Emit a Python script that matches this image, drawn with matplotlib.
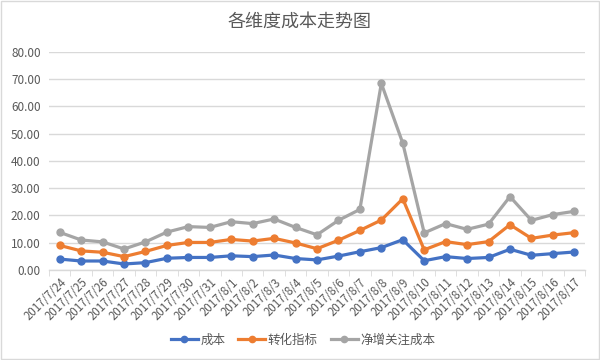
import matplotlib
matplotlib.use("Agg")
import matplotlib.pyplot as plt
from matplotlib.patches import Rectangle
import numpy as np

plt.rcParams['font.family'] = ['Noto Sans CJK SC', 'DejaVu Sans']

dates = ["2017/7/24", "2017/7/25", "2017/7/26", "2017/7/27", "2017/7/28", "2017/7/29",
         "2017/7/30", "2017/7/31", "2017/8/1", "2017/8/2", "2017/8/3", "2017/8/4",
         "2017/8/5", "2017/8/6", "2017/8/7", "2017/8/8", "2017/8/9", "2017/8/10",
         "2017/8/11", "2017/8/12", "2017/8/13", "2017/8/14", "2017/8/15", "2017/8/16",
         "2017/8/17"]
cost = [4.0, 3.3, 3.3, 2.2, 2.7, 4.3, 4.6, 4.6, 5.2, 4.9, 5.5, 4.2,
        3.7, 5.1, 6.7, 8.2, 11.1, 3.4, 4.9, 4.2, 4.6, 7.6, 5.4, 6.0, 6.6]
conversion = [9.0, 7.0, 6.5, 4.9, 6.8, 9.0, 10.1, 10.1, 11.2, 10.6, 11.6, 9.9,
              7.8, 10.9, 14.5, 18.3, 26.1, 7.4, 10.4, 9.3, 10.4, 16.6, 11.6, 12.8, 13.7]
net_follow = [13.8, 11.0, 10.3, 7.7, 10.3, 13.9, 15.9, 15.6, 17.7, 17.0, 18.7, 15.6,
              12.9, 18.2, 22.2, 68.4, 46.5, 13.6, 17.0, 14.9, 16.8, 26.9, 18.2, 20.3, 21.5]
series_names = ["成本", "转化指标", "净增关注成本"]
colors = ["#4472C4", "#ED7D31", "#A5A5A5"]

fig = plt.figure(figsize=(6, 3.6), dpi=100)
ax = fig.add_axes([49/600, 1 - 270/360, 536/600, (270 - 51.7)/360])

x = np.arange(len(dates))
for vals, name, c in zip([cost, conversion, net_follow], series_names, colors):
    ax.plot(x, vals, color=c, lw=2.3, marker='o', markersize=5, label=name,
            solid_joinstyle='round')

ax.set_ylim(0, 80)
ax.set_yticks(np.arange(0, 81, 10))
ax.set_yticklabels([f"{v:.2f}" for v in np.arange(0, 81, 10)])
ax.set_xlim(-0.5, len(dates) - 0.5)
ax.set_xticks(x)
ax.set_xticklabels(dates, rotation=45, ha='right', rotation_mode='anchor')
ax.set_xticks(np.arange(-0.5, len(dates), 1), minor=True)
ax.tick_params(axis='x', which='major', length=0, pad=4, labelsize=8.3, colors='#595959')
ax.tick_params(axis='x', which='minor', length=4, color='#D9D9D9')
ax.tick_params(axis='y', length=0, labelsize=8.5, colors='#595959', pad=6)

ax.grid(axis='y', color='#D9D9D9', lw=1)
ax.set_axisbelow(True)
for s in ['top', 'right', 'left']:
    ax.spines[s].set_visible(False)
ax.spines['bottom'].set_color('#D9D9D9')
ax.spines['bottom'].set_linewidth(1)

fig.text(0.5, 1 - 22/360, "各维度成本走势图", ha='center', va='center',
         fontsize=13, color='#595959')

fig.legend(loc='center', bbox_to_anchor=(0.505, 1 - 340/360), ncol=3, frameon=False,
           fontsize=9, labelcolor='#595959', handlelength=2.15, columnspacing=1.05,
           handletextpad=0.2, markerscale=0.9)

fig.patches.append(Rectangle((0.002, 0.003), 0.996, 0.994, transform=fig.transFigure,
                             fill=False, edgecolor='#D9D9D9', lw=1))

fig.savefig("out.png", dpi=100)
